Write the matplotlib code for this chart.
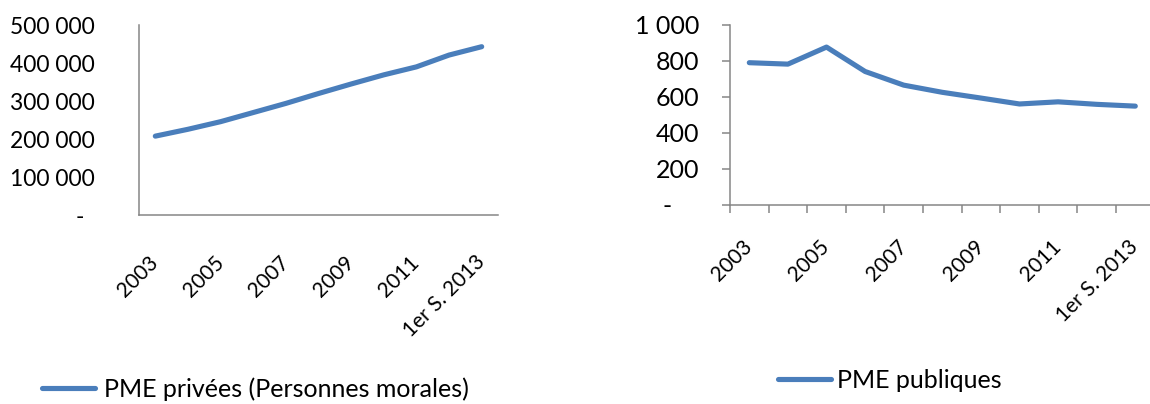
import matplotlib
matplotlib.use('Agg')
import matplotlib.pyplot as plt
from matplotlib.transforms import ScaledTranslation

plt.rcParams['font.family'] = ['Lato', 'DejaVu Sans']

categories = ['2003', '2004', '2005', '2006', '2007', '2008', '2009',
              '2010', '2011', '2012', '1er S. 2013']
pme_privees = [208000, 226000, 246000, 270000, 294000, 320000, 345000,
               369000, 390000, 421000, 443000]
pme_publiques = [790, 782, 877, 741, 665, 625, 593, 560, 572, 558, 548]
label_privees = 'PME privées (Personnes morales)'
label_publiques = 'PME publiques'
yticks_left = [0, 100000, 200000, 300000, 400000, 500000]
yticks_right = [0, 200, 400, 600, 800, 1000]

BLUE = '#4A7EBB'
GREY = '#868686'
W, H = 1150, 404


def fmt(v):
    return '-' if v == 0 else f"{v:,}".replace(',', ' ')


fig = plt.figure(figsize=(W / 100, H / 100), dpi=100)
ax1 = fig.add_axes([139 / W, 1 - 215.3 / H, 359 / W, 190.3 / H])
ax2 = fig.add_axes([730 / W, 1 - 204.5 / H, 424.6 / W, 179.5 / H])

n = len(categories)
xpos = [i + 0.5 for i in range(n)]

for ax in (ax1, ax2):
    for s in ('top', 'right'):
        ax.spines[s].set_visible(False)
    for s in ('left', 'bottom'):
        ax.spines[s].set_color(GREY)
        ax.spines[s].set_linewidth(1.1)
    ax.set_xlim(0, n)

# Left chart
ax1.plot(xpos, pme_privees, color=BLUE, lw=3.7, solid_capstyle='round',
         label=label_privees)
ax1.set_ylim(0, 500000)
ax1.set_yticks(yticks_left)
ax1.set_yticklabels([fmt(v) for v in yticks_left])
ax1.tick_params(axis='y', length=0, pad=32, labelsize=16.5)
ax1.set_xticks(xpos[::2])
ax1.set_xticklabels(categories[::2])
ax1.tick_params(axis='x', length=0, pad=31.5, labelsize=15)
for lab in ax1.get_xticklabels():
    lab.set_rotation(45)
    lab.set_ha('right')
    lab.set_va('center')
    lab.set_rotation_mode('anchor')
zl = ax1.get_yticklabels()[0]
zl.set_transform(zl.get_transform() + ScaledTranslation(-11 / 100, 0, fig.dpi_scale_trans))

# Right chart
ax2.plot(xpos, pme_publiques, color=BLUE, lw=3.7, solid_capstyle='round',
         label=label_publiques)
ax2.set_ylim(0, 1000)
ax2.set_yticks(yticks_right)
ax2.set_yticklabels([fmt(v) for v in yticks_right])
ax2.tick_params(axis='y', length=5.8, width=1.1, color=GREY, direction='out',
                pad=16.5, labelsize=18)
ax2.set_xticks(list(range(n + 1)))
ax2.set_xticklabels([])
ax2.tick_params(axis='x', which='major', length=5.8, width=1.1, color=GREY,
                direction='out')
ax2.set_xticks(xpos[::2], minor=True)
ax2.set_xticklabels(categories[::2], minor=True)
ax2.tick_params(axis='x', which='minor', length=0, pad=28, labelsize=15)
for lab in ax2.get_xticklabels(minor=True):
    lab.set_rotation(45)
    lab.set_ha('right')
    lab.set_va('center')
    lab.set_rotation_mode('anchor')
zr = ax2.get_yticklabels()[0]
zr.set_transform(zr.get_transform() + ScaledTranslation(-27 / 100, 0, fig.dpi_scale_trans))

# Legends
ax1.legend(loc='center left', bbox_to_anchor=(42 / W, 1 - 389 / H),
           bbox_transform=fig.transFigure, frameon=False, fontsize=18,
           handlelength=2.1, handletextpad=0.4, borderpad=0, borderaxespad=0)
ax2.legend(loc='center left', bbox_to_anchor=(778 / W, 1 - 380 / H),
           bbox_transform=fig.transFigure, frameon=False, fontsize=18,
           handlelength=2.1, handletextpad=0.25, borderpad=0, borderaxespad=0)

fig.savefig('out.png', dpi=100)
